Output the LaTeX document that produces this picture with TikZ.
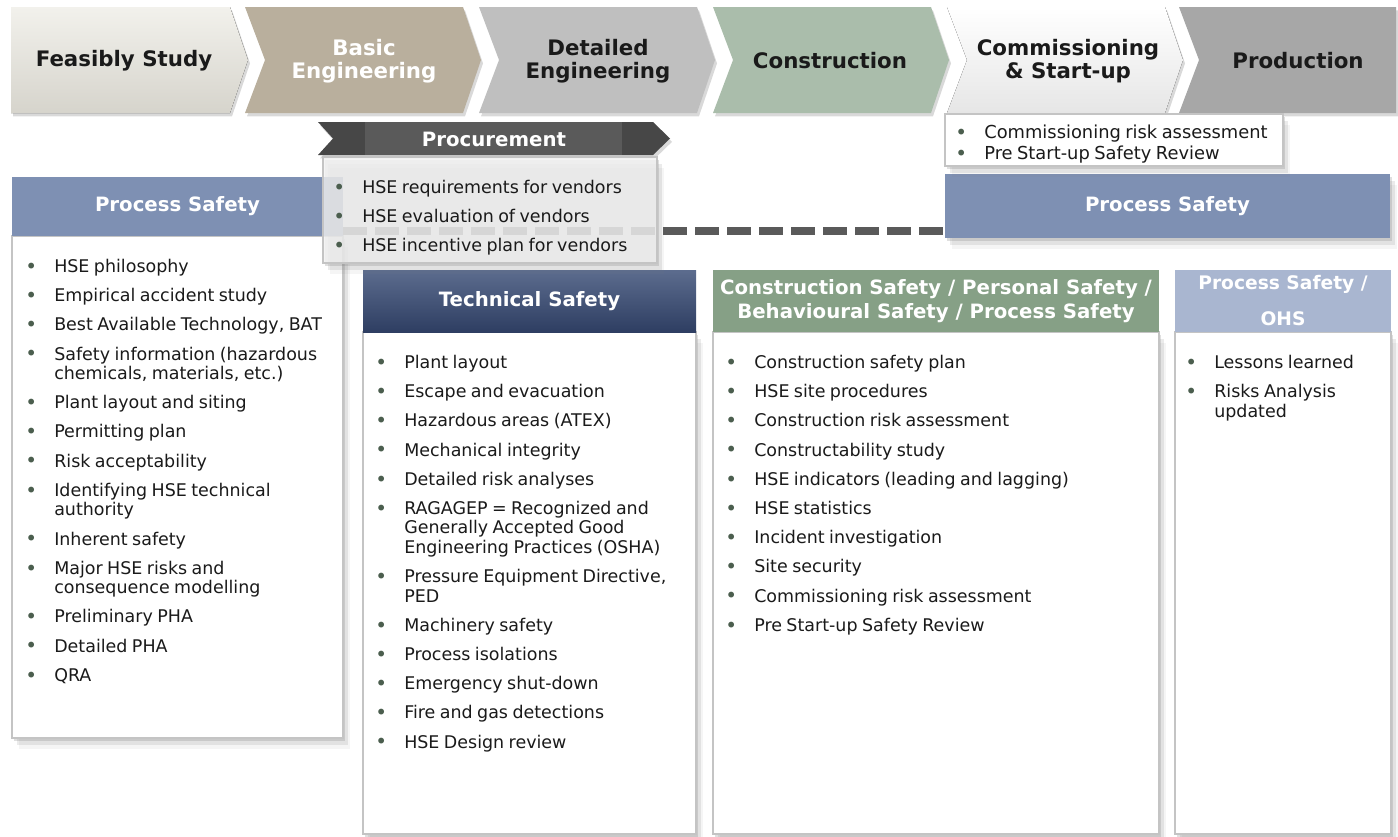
\documentclass[tikz,border=0pt]{standalone}
\usepackage{fontspec}
\setmainfont{DejaVu Sans}
\usetikzlibrary{shadows}

\definecolor{txt}{HTML}{1A1A1A}
\definecolor{bulletc}{HTML}{4B5E4E}
\definecolor{feastop}{HTML}{F2F1EC}
\definecolor{feasbot}{HTML}{D6D4CC}
\definecolor{basicfill}{HTML}{B9AF9D}
\definecolor{detailfill}{HTML}{BFBFBF}
\definecolor{constrfill}{HTML}{AABDAB}
\definecolor{commbot}{HTML}{E6E6E6}
\definecolor{prodfill}{HTML}{A7A7A7}
\definecolor{procdark}{HTML}{474747}
\definecolor{procmid}{HTML}{5A5A5A}
\definecolor{procbg}{HTML}{F2F2F2}
\definecolor{psblue}{HTML}{7E90B3}
\definecolor{techtop}{HTML}{5C6C8E}
\definecolor{techbot}{HTML}{2E3E62}
\definecolor{congreen}{HTML}{86A086}
\definecolor{ohsblue}{HTML}{A9B6D0}
\definecolor{bordc}{HTML}{C4C4C4}
\definecolor{dashc}{HTML}{5A5A5A}

\newcommand{\bitem}[1]{\par\noindent\hangindent=20.25pt\hangafter=1%
  \makebox[20.25pt][l]{\hspace{-1.5pt}\raisebox{-0.6pt}{\textcolor{bulletc}{\fontsize{15}{15}\selectfont\textbullet}}}\strut#1\par}
\newcommand{\listsetup}{\fontsize{13.1}{14.6}\selectfont\setlength{\parskip}{7.3pt}}

\begin{document}
\begin{tikzpicture}[x=0.75pt,y=-0.75pt,
    chevshadow/.style={drop shadow={shadow xshift=1.5pt,shadow yshift=-2.5pt,opacity=.3}},
    boxshadow/.style={drop shadow={shadow xshift=1.5pt,shadow yshift=-2.5pt,opacity=.25},
                      drop shadow={shadow xshift=3.5pt,shadow yshift=-5.5pt,opacity=.16},
                      drop shadow={shadow xshift=5.5pt,shadow yshift=-8.5pt,opacity=.08}},
    chevtext/.style={font=\fontsize{16}{17.25}\selectfont\bfseries,align=center,text=txt},
    colhead/.style={anchor=north west,inner sep=0pt,outer sep=0pt,text=white,align=center,
                    font=\fontsize{14.8}{18}\selectfont\bfseries},
    colbody/.style={anchor=north west,inner sep=0pt,outer sep=0pt,fill=white,draw=bordc,line width=1.5pt},
    itemlist/.style={anchor=north west,inner sep=0pt,align=left,text=txt}]

\useasboundingbox (0,0) rectangle (1398,836);

\fill[top color=feastop,bottom color=feasbot,chevshadow] (11,7) -- (230,7) -- (248,60) -- (230,113) -- (11,113) -- cycle;
\fill[basicfill,chevshadow] (245,7) -- (463,7) -- (481,60) -- (463,113) -- (245,113) -- (265,60) -- cycle;
\fill[detailfill,chevshadow] (479,7) -- (697,7) -- (715,60) -- (697,113) -- (479,113) -- (499,60) -- cycle;
\fill[constrfill,chevshadow] (713,7) -- (931,7) -- (949,60) -- (931,113) -- (713,113) -- (733,60) -- cycle;
\fill[top color=white,bottom color=commbot,chevshadow] (947,7) -- (1165,7) -- (1183,60) -- (1165,113) -- (947,113) -- (967,60) -- cycle;
\fill[prodfill,chevshadow] (1179,7) -- (1396,7) -- (1396,113) -- (1179,113) -- (1199,60) -- cycle;

\node[chevtext] (feas) at (124,61) {Feasibly Study};
\node[chevtext,text=white] (basic) at (364,61) {Basic\\Engineering};
\node[chevtext] (detail) at (598,61) {Detailed\\Engineering};
\node[chevtext] (constr) at (830,61) {Construction};
\node[chevtext] (commiss) at (1068,61) {Commissioning\\\& Start-up};
\node[chevtext] (prod) at (1298,61) {Production};

\node[colbody,boxshadow,minimum width=248.25pt,minimum height=376.5pt] (psbody) at (12,236) {};
\node[colhead,fill=psblue,minimum width=248.25pt,minimum height=44.25pt] (pshead) at (12,177) {Process Safety};

\node[colhead,fill=psblue,boxshadow,minimum width=333.75pt,minimum height=48pt] (psrhead) at (945,174) {Process Safety};
\node[colbody,boxshadow,line width=1pt,minimum width=253.5pt,minimum height=39pt] (commbox) at (945,114) {};

\draw[dashc,line width=5.6pt,dash pattern=on 18pt off 6pt] ([yshift=3.75pt]pshead.south east) -- ([yshift=5.25pt]psrhead.south west);

\node[colbody,boxshadow,minimum width=249.75pt,minimum height=376.5pt] (techbody) at (363,332) {};
\node[colhead,top color=techtop,bottom color=techbot,minimum width=249.75pt,minimum height=46.5pt] (techhead) at (363,270) {Technical Safety};
\node[colbody,boxshadow,minimum width=334.5pt,minimum height=376.5pt] (conbody) at (713,332) {};
\node[colhead,fill=congreen,minimum width=334.5pt,minimum height=46.5pt] (conhead) at (713,270) {Construction Safety / Personal Safety /\\Behavioural Safety / Process Safety};
\node[colbody,boxshadow,minimum width=162pt,minimum height=376.5pt] (ohsbody) at (1175,332) {};
\node[colhead,fill=ohsblue,font=\fontsize{14}{27}\selectfont\bfseries,minimum width=162pt,minimum height=46.5pt] (ohshead) at (1175,270) {Process Safety /\\OHS};

\fill[procdark,chevshadow] (318,122) -- (653,122) -- (670,138.5) -- (653,155) -- (318,155) -- (333,138.5) -- cycle;
\fill[procmid] (365,122) rectangle (622,155);
\node[chevtext,font=\fontsize{14.8}{17}\selectfont\bfseries,text=white] (procur) at (494,139) {Procurement};
\node[colbody,boxshadow,fill=procbg,fill opacity=.8,line width=1pt,minimum width=250.5pt,minimum height=79.5pt] (procbox) at (323,157) {};

\node[itemlist,text width=240pt] (commlist) at (957,117) {\fontsize{13.4}{15.75}\selectfont
  \bitem{Commissioning risk assessment}\bitem{Pre Start-up Safety Review}};
\node[itemlist,text width=235pt] (proclist) at (335,164) {\listsetup
  \bitem{HSE requirements for vendors}
  \bitem{HSE evaluation of vendors}
  \bitem{HSE incentive plan for vendors}};
\node[itemlist,text width=232pt] (pslist) at (27,243) {\listsetup
  \bitem{HSE philosophy}
  \bitem{Empirical accident study}
  \bitem{Best Available Technology, BAT}
  \bitem{Safety information (hazardous\newline chemicals, materials, etc.)}
  \bitem{Plant layout and siting}
  \bitem{Permitting plan}
  \bitem{Risk acceptability}
  \bitem{Identifying HSE technical\newline authority}
  \bitem{Inherent safety}
  \bitem{Major HSE risks and\newline consequence modelling}
  \bitem{Preliminary PHA}
  \bitem{Detailed PHA}
  \bitem{QRA}};
\node[itemlist,text width=237pt] (techlist) at (377,339) {\listsetup
  \bitem{Plant layout}
  \bitem{Escape and evacuation}
  \bitem{Hazardous areas (ATEX)}
  \bitem{Mechanical integrity}
  \bitem{Detailed risk analyses}
  \bitem{RAGAGEP = Recognized and\newline Generally Accepted Good\newline Engineering Practices (OSHA)}
  \bitem{Pressure Equipment Directive,\newline PED}
  \bitem{Machinery safety}
  \bitem{Process isolations}
  \bitem{Emergency shut-down}
  \bitem{Fire and gas detections}
  \bitem{HSE Design review}};
\node[itemlist,text width=320pt] (conlist) at (727,339) {\listsetup
  \bitem{Construction safety plan}
  \bitem{HSE site procedures}
  \bitem{Construction risk assessment}
  \bitem{Constructability study}
  \bitem{HSE indicators (leading and lagging)}
  \bitem{HSE statistics}
  \bitem{Incident investigation}
  \bitem{Site security}
  \bitem{Commissioning risk assessment}
  \bitem{Pre Start-up Safety Review}};
\node[itemlist,text width=150pt] (ohslist) at (1187,339) {\listsetup
  \bitem{Lessons learned}
  \bitem{Risks Analysis\newline updated}};
\end{tikzpicture}
\end{document}
